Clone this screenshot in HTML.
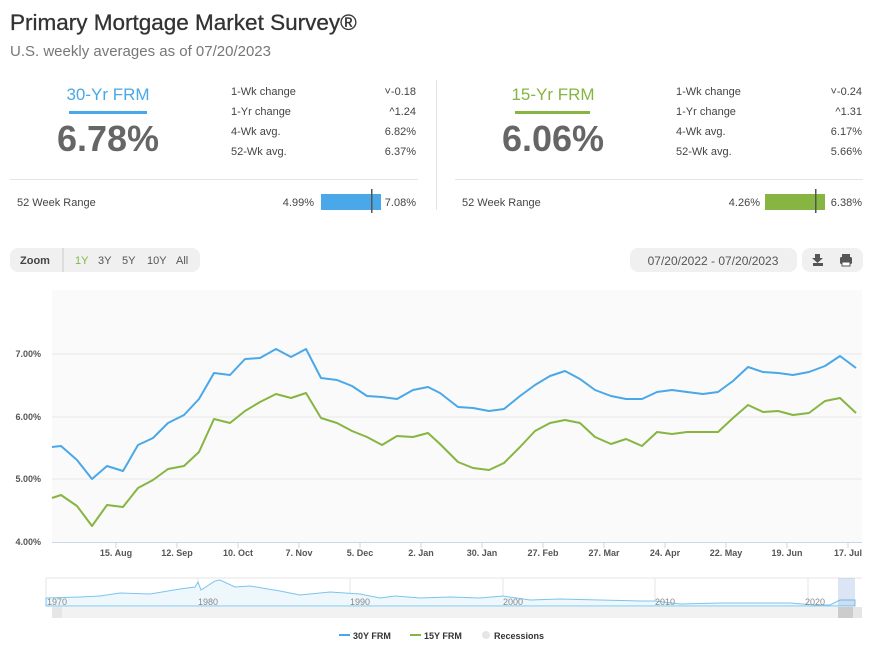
<!DOCTYPE html>
<html><head><meta charset="utf-8"><style>
html,body{margin:0;padding:0;background:#fff;}
svg{display:block;font-family:"Liberation Sans",sans-serif;}
</style></head><body>
<svg width="876" height="656" viewBox="0 0 876 656" xmlns="http://www.w3.org/2000/svg">
<rect width="876" height="656" fill="#fff"/>
<text x="10" y="30" font-size="22.5" fill="#333" stroke="#333" stroke-width="0.3">Primary Mortgage Market Survey®</text>
<text x="10" y="56" font-size="15" fill="#777">U.S. weekly averages as of 07/20/2023</text>

<!-- left panel -->
<text x="108" y="100" font-size="17" fill="#4aa8e8" text-anchor="middle">30-Yr FRM</text>
<rect x="69" y="111" width="78" height="3" fill="#4aa8e8"/>
<text x="108" y="151" font-size="36" font-weight="bold" fill="#666" text-anchor="middle">6.78%</text>
<g font-size="11" fill="#444">
<text x="231" y="95">1-Wk change</text><text x="416" y="95" text-anchor="end">˅-0.18</text>
<text x="231" y="115">1-Yr change</text><text x="416" y="115" text-anchor="end">^1.24</text>
<text x="231" y="135">4-Wk avg.</text><text x="416" y="135" text-anchor="end">6.82%</text>
<text x="231" y="155">52-Wk avg.</text><text x="416" y="155" text-anchor="end">6.37%</text>
<text x="17" y="206">52 Week Range</text><text x="314" y="206" text-anchor="end">4.99%</text>
<text x="416" y="206" text-anchor="end">7.08%</text>
</g>
<rect x="10" y="179" width="408" height="1" fill="#e4e4e4"/>
<rect x="321" y="194" width="60" height="16" fill="#4aa8e8"/>
<rect x="371" y="189" width="1.5" height="24" fill="#555"/>
<rect x="436" y="80" width="1" height="130" fill="#e4e4e4"/>

<!-- right panel -->
<text x="553" y="100" font-size="17" fill="#86b541" text-anchor="middle">15-Yr FRM</text>
<rect x="515" y="111" width="75" height="3" fill="#86b541"/>
<text x="553" y="151" font-size="36" font-weight="bold" fill="#666" text-anchor="middle">6.06%</text>
<g font-size="11" fill="#444">
<text x="676" y="95">1-Wk change</text><text x="862" y="95" text-anchor="end">˅-0.24</text>
<text x="676" y="115">1-Yr change</text><text x="862" y="115" text-anchor="end">^1.31</text>
<text x="676" y="135">4-Wk avg.</text><text x="862" y="135" text-anchor="end">6.17%</text>
<text x="676" y="155">52-Wk avg.</text><text x="862" y="155" text-anchor="end">5.66%</text>
<text x="462" y="206">52 Week Range</text><text x="760" y="206" text-anchor="end">4.26%</text>
<text x="862" y="206" text-anchor="end">6.38%</text>
</g>
<rect x="455" y="179" width="408" height="1" fill="#e4e4e4"/>
<rect x="765" y="194" width="60" height="16" fill="#86b541"/>
<rect x="815" y="189" width="1.5" height="24" fill="#555"/>

<!-- zoom buttons -->
<rect x="10" y="248" width="190" height="24" rx="8" fill="#f0f0f0"/>
<rect x="62" y="248" width="2" height="24" fill="#ddd"/>
<text x="20" y="264" font-size="11" font-weight="bold" fill="#444">Zoom</text>
<g font-size="11" fill="#555"><text x="75" y="264" fill="#86b541">1Y</text><text x="98" y="264">3Y</text><text x="122" y="264">5Y</text><text x="147" y="264">10Y</text><text x="176" y="264">All</text></g>
<rect x="630" y="248" width="167" height="24" rx="8" fill="#f0f0f0"/>
<text x="713" y="265" font-size="12" fill="#555" text-anchor="middle">07/20/2022 - 07/20/2023</text>
<rect x="802" y="248" width="61" height="24" rx="8" fill="#f0f0f0"/>
<g fill="#555"><rect x="813" y="263" width="10" height="3"/><path d="M815 254h5v4h3l-5.5 5-5.5-5h3z"/>
<rect x="840" y="257" width="12" height="7" rx="1.5"/><rect x="842" y="254" width="8" height="3"/><rect x="842" y="262" width="8" height="4" fill="#fff" stroke="#555"/></g>

<!-- plot -->
<rect x="52" y="290" width="810" height="252" fill="#fafafa"/>
<g stroke="#e8e8e8" stroke-width="1"><line x1="52" y1="354" x2="862" y2="354"/><line x1="52" y1="417" x2="862" y2="417"/><line x1="52" y1="479" x2="862" y2="479"/></g>
<line x1="52" y1="542.5" x2="862" y2="542.5" stroke="#ccd6eb"/>
<g stroke="#ccd6eb"><line x1="116" y1="542" x2="116" y2="548"/><line x1="177" y1="542" x2="177" y2="548"/><line x1="238" y1="542" x2="238" y2="548"/><line x1="299" y1="542" x2="299" y2="548"/><line x1="360" y1="542" x2="360" y2="548"/><line x1="421" y1="542" x2="421" y2="548"/><line x1="482" y1="542" x2="482" y2="548"/><line x1="543" y1="542" x2="543" y2="548"/><line x1="604" y1="542" x2="604" y2="548"/><line x1="665" y1="542" x2="665" y2="548"/><line x1="726" y1="542" x2="726" y2="548"/><line x1="787" y1="542" x2="787" y2="548"/><line x1="848" y1="542" x2="848" y2="548"/></g>
<g font-size="9" fill="#555" font-weight="bold" text-anchor="end"><text x="41" y="357">7.00%</text><text x="41" y="420">6.00%</text><text x="41" y="482">5.00%</text><text x="41" y="545">4.00%</text></g>
<g font-size="9" fill="#555" font-weight="bold" text-anchor="middle"><text x="116" y="556">15. Aug</text><text x="177" y="556">12. Sep</text><text x="238" y="556">10. Oct</text><text x="299" y="556">7. Nov</text><text x="360" y="556">5. Dec</text><text x="421" y="556">2. Jan</text><text x="482" y="556">30. Jan</text><text x="543" y="556">27. Feb</text><text x="604" y="556">27. Mar</text><text x="665" y="556">24. Apr</text><text x="726" y="556">22. May</text><text x="787" y="556">19. Jun</text><text x="848" y="556">17. Jul</text></g>
<polyline fill="none" stroke="#4aa8e8" stroke-width="2" stroke-linejoin="round" points="52,447 61,446 77,460 92,479 107,466 123,471 138,445 153,438 168,423 184,415 199,399 214,373 230,375 245,359 260,358 276,349 291,357 306,349 321,378 337,380 352,386 367,396 382,397 397,399 413,390 428,387 440,393 458,407 473,408 489,411 504,409 520,396 535,385 550,376 565,371 580,379 595,390 611,396 626,399 642,399 657,392 672,390 687,392 703,394 718,392 733,381 748,367 763,372 778,373 793,375 809,372 825,366 840,356 856,368"/>
<polyline fill="none" stroke="#86b541" stroke-width="2" stroke-linejoin="round" points="52,498 61,495 77,506 92,526 107,505 123,507 138,488 153,480 168,469 184,466 199,452 214,419 230,423 245,411 260,402 276,394 291,398 306,393 321,418 337,423 352,431 367,437 382,445 397,436 413,437 428,433 440,444 458,462 473,468 489,470 504,463 520,447 535,431 550,423 565,420 580,423 595,437 611,444 626,439 642,446 657,432 672,434 687,432 703,432 718,432 733,418 748,405 763,412 778,411 793,415 809,413 825,401 840,398 856,413"/>

<!-- navigator -->
<line x1="46" y1="578" x2="862" y2="578" stroke="#e6e6e6"/>
<g stroke="#e6e6e6"><line x1="46" y1="578" x2="46" y2="606"/><line x1="198" y1="578" x2="198" y2="606"/><line x1="350" y1="578" x2="350" y2="606"/><line x1="503" y1="578" x2="503" y2="606"/><line x1="655" y1="578" x2="655" y2="606"/><line x1="808" y1="578" x2="808" y2="606"/></g>
<path d="M46,598 80,597 100,596 120,593 150,594 180,589 195,587 198,582 201,590 215,581 220,580 235,587 250,586 280,591 300,595 330,592 360,594 380,598 395,596 420,598 450,597 480,598 503,596 530,600 560,599 600,600 640,601 655,601 680,604 720,603 760,603 790,603 815,605 830,605 840,600 855,600 L855,606 46,606Z" fill="#eef7fc" stroke="#7cc4ee" stroke-width="1"/>
<rect x="838" y="578" width="17" height="28" fill="#4a7cc8" fill-opacity="0.2"/>
<g font-size="9" fill="#888"><text x="47" y="605">1970</text><text x="198" y="605">1980</text><text x="350" y="605">1990</text><text x="503" y="605">2000</text><text x="655" y="605">2010</text><text x="805" y="605">2020</text></g>
<rect x="52" y="607" width="810" height="11" fill="#f2f2f2"/>
<rect x="52" y="607" width="10" height="11" fill="#e6e6e6"/>
<rect x="838" y="607" width="15" height="11" fill="#ccc"/>
<rect x="853" y="607" width="9" height="11" fill="#e6e6e6"/>

<!-- legend -->
<rect x="339" y="634" width="11" height="2" fill="#4aa8e8"/><text x="353" y="639" font-size="9" fill="#333" font-weight="bold">30Y FRM</text>
<rect x="410" y="634" width="11" height="2" fill="#86b541"/><text x="424" y="639" font-size="9" fill="#333" font-weight="bold">15Y FRM</text>
<circle cx="486" cy="635" r="4" fill="#e6e6e6"/><text x="494" y="639" font-size="9" fill="#333" font-weight="bold">Recessions</text>
</svg>
</body></html>
